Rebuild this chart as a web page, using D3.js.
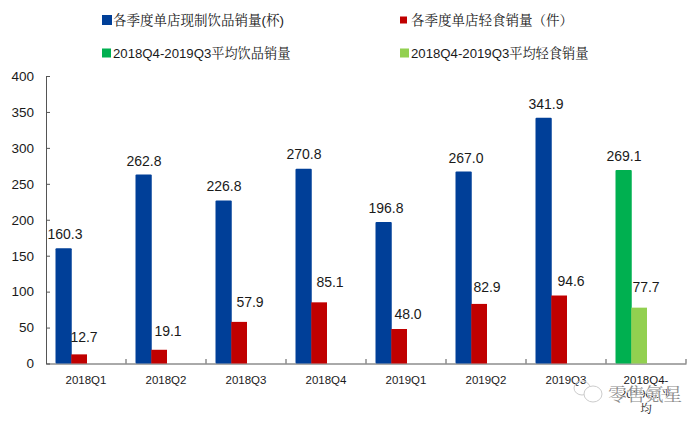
<!DOCTYPE html>
<html>
<head>
<meta charset="utf-8">
<script src="https://cdn.jsdelivr.net/npm/d3@7"></script>
<style>
  html, body { margin: 0; padding: 0; background: #fff; }
  text { font-family: "Liberation Sans", "Noto Serif CJK SC", "Noto Sans CJK SC", sans-serif; fill: #1a1a1a; }
</style>
</head>
<body>
<div id="chart"></div>
<script>
const quarters = ["2018Q1", "2018Q2", "2018Q3", "2018Q4", "2019Q1", "2019Q2", "2019Q3", "avg"];
const drinks = [160.3, 262.8, 226.8, 270.8, 196.8, 267.0, 341.9, 269.1];
const snacks = [12.7, 19.1, 57.9, 85.1, 48.0, 82.9, 94.6, 77.7];
const yTicks = [0, 50, 100, 150, 200, 250, 300, 350, 400];
const lastLabel = ["2018Q4-", "2019Q3平", "均"];
const legendNames = ["各季度单店现制饮品销量(杯)", "各季度单店轻食销量（件）", "2018Q4-2019Q3平均饮品销量", "2018Q4-2019Q3平均轻食销量"];
const legendColors = ["#003f98", "#c00000", "#00b050", "#92d050"];

const svg = d3.select("#chart").append("svg").attr("width", 700).attr("height", 425);

const x = d3.scaleBand().domain(quarters).range([46, 686]);
const y = d3.scaleLinear().domain([0, 400]).range([363.5, 76]);
const sub = d3.scaleBand().domain(["drinks", "snacks"]).range([9.5, 41]);

// axes
const yAxis = d3.axisLeft(y).tickValues(yTicks).tickSizeInner(-4).tickSizeOuter(0).tickPadding(12).tickFormat(d3.format("d"));
const gy = svg.append("g").attr("transform", "translate(46,0)").call(yAxis);
gy.selectAll("text").attr("font-size", 13.5);

const xAxis = d3.axisBottom(x).tickSize(0).tickFormat(d => d === "avg" ? "" : d);
const gx = svg.append("g").attr("transform", "translate(0,363.5)").call(xAxis);
gx.selectAll("text").attr("font-size", 11.5).attr("y", 10).attr("dy", "0.9em");
svg.selectAll(".domain").attr("stroke", "#555");
svg.selectAll(".tick line").attr("stroke", "#555");

// little upward ticks between categories
svg.append("g").selectAll("line").data(quarters).join("line")
    .attr("x1", d => x(d) + x.bandwidth()).attr("x2", d => x(d) + x.bandwidth())
    .attr("y1", 363.5).attr("y2", 359).attr("stroke", "#555");

// wrapped label of the last category
svg.append("g").selectAll("text").data(lastLabel).join("text")
    .attr("x", x("avg") + x.bandwidth() / 2)
    .attr("y", (d, i) => 383.5 + i * 14.5)
    .attr("text-anchor", "middle")
    .attr("font-size", 11.5)
    .text(d => d);

// bars
const isLast = i => i === quarters.length - 1;
svg.append("g").selectAll("rect").data(drinks).join("rect")
    .attr("x", (d, i) => x(quarters[i]) + sub("drinks"))
    .attr("y", d => y(d))
    .attr("width", sub.bandwidth() + 0.5)
    .attr("height", d => y(0) - y(d))
    .attr("rx", 1)
    .attr("fill", (d, i) => isLast(i) ? legendColors[2] : legendColors[0]);
svg.append("g").selectAll("rect").data(snacks).join("rect")
    .attr("x", (d, i) => x(quarters[i]) + sub("snacks"))
    .attr("y", d => y(d))
    .attr("width", sub.bandwidth())
    .attr("height", d => y(0) - y(d))
    .attr("fill", (d, i) => isLast(i) ? legendColors[3] : legendColors[1]);

// value labels were hand placed in the original, so each one gets a nudge
const drinkDx = [19, 18, 18, 18, 20, 20, 20, 18];
const drinkGap = [9, 9, 9, 10, 9, 9, 9, 9];
const snackDx = [38, 42, 44, 44, 42, 41, 45, 40];
const snackGap = [12, 14, 15, 15, 10, 12, 10, 16];
svg.append("g").selectAll("text").data(drinks).join("text")
    .attr("x", (d, i) => x(quarters[i]) + drinkDx[i])
    .attr("y", (d, i) => y(d) - drinkGap[i])
    .attr("text-anchor", "middle").attr("font-size", 14)
    .text(d => d.toFixed(1));
svg.append("g").selectAll("text").data(snacks).join("text")
    .attr("x", (d, i) => x(quarters[i]) + snackDx[i])
    .attr("y", (d, i) => y(d) - snackGap[i])
    .attr("text-anchor", "middle").attr("font-size", 14)
    .text(d => d.toFixed(1));

// legend
const legendX = [102, 400, 102, 400];
const legendY = [20, 20, 53, 53];
const legendW = [10, 7, 9, 9];
const legendH = [10, 7, 9, 9];
const legendFont = [13.5, 13.5, 13.2, 13.2];
const legend = svg.append("g").selectAll("g").data(legendNames).join("g")
    .attr("transform", (d, i) => "translate(" + legendX[i] + "," + legendY[i] + ")");
legend.append("rect")
    .attr("y", (d, i) => -legendH[i] / 2)
    .attr("width", (d, i) => legendW[i])
    .attr("height", (d, i) => legendH[i])
    .attr("fill", (d, i) => legendColors[i]);
legend.append("text").attr("x", 11).attr("y", 5).attr("font-size", (d, i) => legendFont[i]).text(d => d);

// watermark sits on top of the last label
const mark = svg.append("g");
mark.append("ellipse").attr("cx", 582).attr("cy", 388).attr("rx", 8).attr("ry", 7).attr("fill", "none").attr("stroke", "#ccc");
mark.append("ellipse").attr("cx", 593).attr("cy", 394).attr("rx", 9).attr("ry", 8).attr("fill", "#fff").attr("stroke", "#ccc");
mark.append("text").attr("x", 608).attr("y", 401).attr("font-size", 18.5)
    .style("fill", "#8a8a8a").attr("stroke", "#fff").attr("stroke-width", 1).attr("paint-order", "stroke")
    .text("零售氪星");
</script>
</body>
</html>
